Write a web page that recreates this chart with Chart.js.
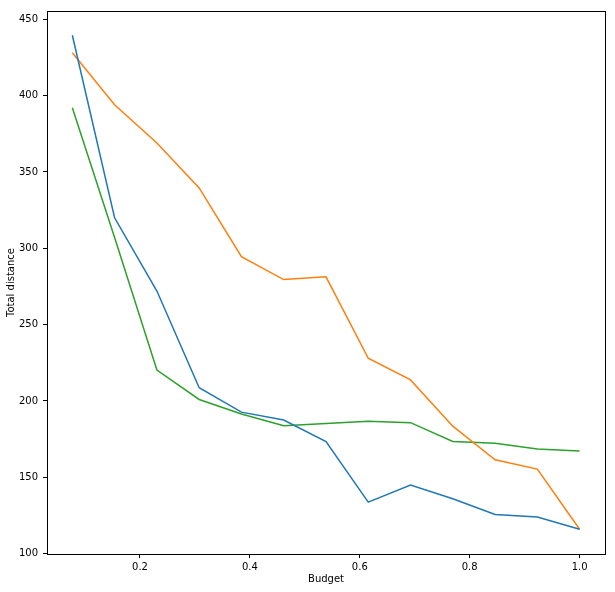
<!DOCTYPE html>
<html>
<head>
<meta charset="utf-8">
<script src="https://cdn.jsdelivr.net/npm/chart.js@4/dist/chart.umd.min.js"></script>
<style>
  body { margin: 0; background: #fff; }
</style>
</head>
<body>
<canvas id="chart" width="615" height="592"></canvas>
<script>
// Donnees
const budget = [0.0769, 0.1538, 0.2308, 0.3077, 0.3846, 0.4615, 0.5385, 0.6154, 0.6923, 0.7692, 0.8462, 0.9231, 1.0];
const distBlue = [439.5, 320, 272, 208.7, 192.7, 187.5, 173.5, 133.8, 145, 136, 125.7, 124, 116];
const distOrange = [428, 394, 369, 339.5, 294.5, 279.5, 281.3, 228, 213.8, 183.5, 161.5, 155.4, 116];
const distGreen = [392, 307, 220.3, 201, 191.5, 183.8, 185.2, 186.8, 185.8, 173.5, 172.4, 168.5, 167.2];

const xTicks = [0.2, 0.4, 0.6, 0.8, 1.0];
const yTicks = [100, 150, 200, 250, 300, 350, 400, 450];

function toPoints(values) {
    return budget.map((b, i) => ({ x: b, y: values[i] }));
}

// Cadre complet comme matplotlib (haut + droite)
const boxPlugin = {
    id: "box",
    afterDraw(chart) {
        const { ctx, chartArea } = chart;
        ctx.save();
        ctx.strokeStyle = "#000";
        ctx.lineWidth = 1;
        ctx.strokeRect(Math.round(chartArea.left) + 0.5, Math.round(chartArea.top) + 0.5,
            Math.round(chartArea.right - chartArea.left), Math.round(chartArea.bottom - chartArea.top));
        ctx.restore();
    }
};

const font = { family: "DejaVu Sans", size: 10 };

new Chart(document.getElementById("chart").getContext("2d"), {
    type: "line",
    data: {
        datasets: [
            { data: toPoints(distBlue), borderColor: "#1f77b4", borderWidth: 1.5, pointRadius: 0, tension: 0 },
            { data: toPoints(distOrange), borderColor: "#ff7f0e", borderWidth: 1.5, pointRadius: 0, tension: 0 },
            { data: toPoints(distGreen), borderColor: "#2ca02c", borderWidth: 1.5, pointRadius: 0, tension: 0 }
        ]
    },
    options: {
        responsive: false,
        animation: false,
        layout: { padding: { left: 0, right: 10, top: 10, bottom: 0 } },
        plugins: {
            legend: { display: false },
            tooltip: { enabled: false }
        },
        scales: {
            x: {
                type: "linear",
                min: 0.0308,
                max: 1.0462,
                afterBuildTicks: (scale) => { scale.ticks = xTicks.map(v => ({ value: v })); },
                afterFit: (scale) => { scale.height = 38; },
                grid: { drawOnChartArea: false, drawTicks: true, tickLength: 4, tickColor: "#000" },
                border: { display: true, color: "#000" },
                ticks: { color: "#000", font: font, padding: 3, maxRotation: 0, callback: (v) => v.toFixed(1) },
                title: { display: true, text: "Budget", color: "#000", font: font, padding: { top: 0, bottom: 7 } }
            },
            y: {
                type: "linear",
                min: 99.8,
                max: 455.4,
                afterBuildTicks: (scale) => { scale.ticks = yTicks.map(v => ({ value: v })); },
                afterFit: (scale) => { scale.width = 47; },
                grid: { drawOnChartArea: false, drawTicks: true, tickLength: 4, tickColor: "#000" },
                border: { display: true, color: "#000" },
                ticks: { color: "#000", font: font, padding: 5, callback: (v) => String(v) },
                title: { display: true, text: "Total distance", color: "#000", font: font, padding: { top: 5, bottom: 0 } }
            }
        }
    },
    plugins: [boxPlugin]
});
</script>
</body>
</html>
